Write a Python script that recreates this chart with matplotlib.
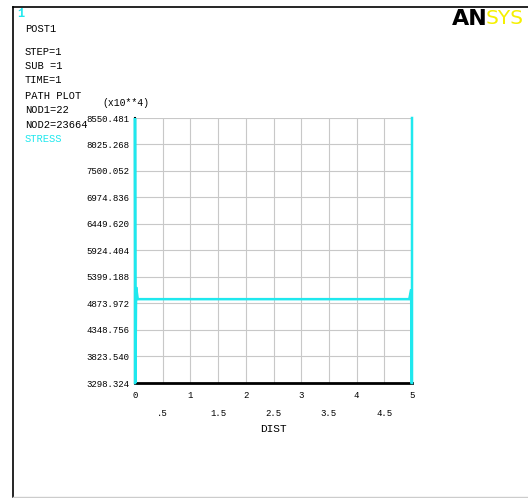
import numpy as np
import matplotlib.pyplot as plt
from matplotlib.lines import Line2D

# path plot values (stress x10**4 along DIST)
dist = [0.0, 0.0, 0.008, 0.02, 0.05, 2.5, 4.95, 4.985, 4.992, 5.0, 5.0]
stress = [3298.324, 8550.481, 3298.324, 5200.0, 4960.0, 4960.0, 4960.0, 5150.0, 3298.324, 3298.324, 8550.481]

ytick_vals = [3298.324, 3823.540, 4348.756, 4873.972, 5399.188, 5924.404,
              6449.620, 6974.836, 7500.052, 8025.268, 8550.481]
ytick_labels = ["3298.324", "3823.540", "4348.756", "4873.972", "5399.188", "5924.404",
                "6449.620", "6974.836", "7500.052", "8025.268", "8550.481"]
xmajor = [0, 1, 2, 3, 4, 5]
xminor = [0.5, 1.5, 2.5, 3.5, 4.5]
xminor_labels = [".5", "1.5", "2.5", "3.5", "4.5"]

info_lines = ["POST1", "STEP=1", "SUB =1", "TIME=1", "PATH PLOT", "NOD1=22", "NOD2=23664"]

W, H = 528, 498
CYAN = "#1FE8EE"
MONO = "Liberation Mono"


def fx(x):
    return x / W


def fy(y):
    return 1 - y / H


fig = plt.figure(figsize=(W / 100, H / 100), dpi=100)

# outer frame
fig.add_artist(Line2D([fx(13), fx(13)], [fy(7), fy(497)], color="black", lw=1.2, transform=fig.transFigure))
fig.add_artist(Line2D([fx(13), 1], [fy(7), fy(7)], color="black", lw=1.2, transform=fig.transFigure))
fig.add_artist(Line2D([fx(13), 1], [fy(497), fy(497)], color="#cccccc", lw=1.0, transform=fig.transFigure))

left, right, top, bottom = 135, 412, 118, 383
ax = fig.add_axes([fx(left), fy(bottom), (right - left) / W, (bottom - top) / H])

ax.plot(dist, stress, color=CYAN, lw=1.8, solid_joinstyle="miter", clip_on=False, zorder=3)

ax.set_xlim(0, 5)
ax.set_ylim(ytick_vals[0], ytick_vals[-1])
ax.set_yticks(ytick_vals)
ax.set_yticklabels(ytick_labels, fontfamily=MONO, fontsize=6.5)
ax.set_xticks(xmajor)
ax.set_xticklabels([str(v) for v in xmajor], fontfamily=MONO, fontsize=6.5)
ax.set_xticks(xminor, minor=True)
ax.set_xticklabels(xminor_labels, minor=True, fontfamily=MONO, fontsize=6.5)
ax.tick_params(axis="y", length=0, pad=4)
ax.tick_params(axis="x", which="major", length=0, pad=6)
ax.tick_params(axis="x", which="minor", length=0, pad=19)
ax.grid(True, which="both", color="#c8c8c8", lw=0.8)
ax.set_axisbelow(True)
for s in ["top", "right"]:
    ax.spines[s].set_visible(False)
ax.spines["bottom"].set_linewidth(2)
ax.spines["left"].set_linewidth(1.5)
ax.set_xlabel("DIST", fontfamily=MONO, fontsize=8, labelpad=4)

# header texts
fig.text(fx(17), fy(14), "1", color=CYAN, fontfamily=MONO, fontsize=8.5, fontweight="bold", va="center")
line_y = [29, 52, 66, 80, 96, 110, 125]
for t, yy in zip(info_lines, line_y):
    fig.text(fx(25), fy(yy), t, fontfamily=MONO, fontsize=7.5, va="center")
fig.text(fx(25), fy(139), "STRESS", color=CYAN, fontfamily=MONO, fontsize=7.5, va="center")
fig.text(fx(126), fy(103), "(x10**4)", fontfamily=MONO, fontsize=7, ha="center", va="center")

# logo
fig.text(fx(452), fy(19), "AN", fontfamily="DejaVu Sans", fontweight="bold", fontsize=16,
         color="black", va="center")
fig.text(fx(486), fy(19), "SYS", fontfamily="DejaVu Sans", fontsize=14.5, color="#F5F000", va="center")

fig.savefig("out.png", dpi=100, facecolor="white")
